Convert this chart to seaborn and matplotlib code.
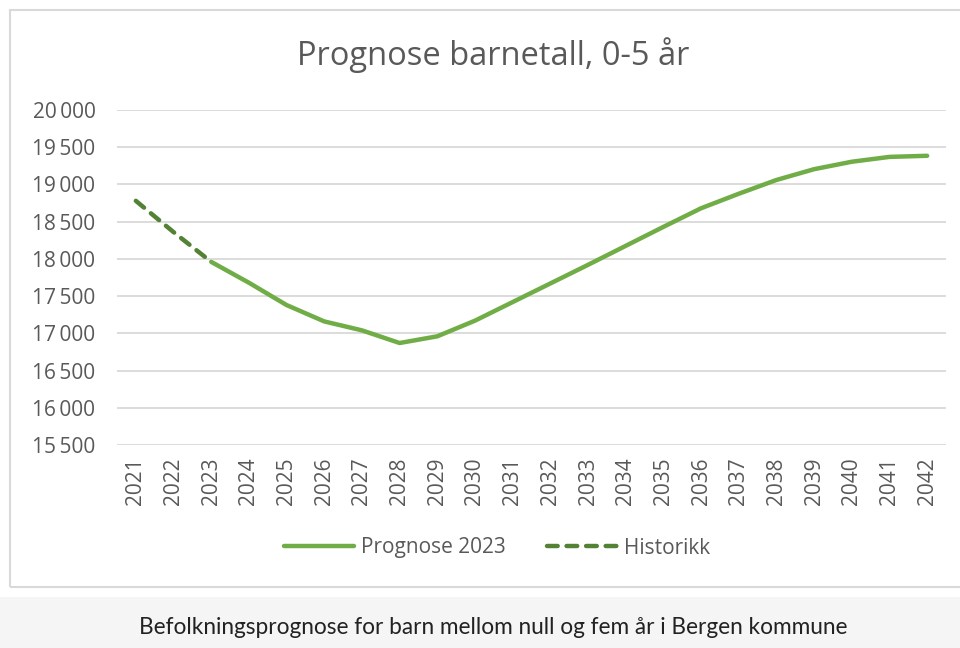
import matplotlib
matplotlib.use("Agg")
import matplotlib.pyplot as plt
import matplotlib.patches as mpatches
from matplotlib.lines import Line2D
from matplotlib.ticker import FuncFormatter, FixedLocator
import seaborn as sns
import pandas as pd

sns.set_theme(style="white")
plt.rcParams['font.family'] = ['Open Sans', 'DejaVu Sans']

title = "Prognose barnetall, 0-5 år"
caption = "Befolkningsprognose for barn mellom null og fem år i Bergen kommune"

prognose_years = list(range(2023, 2043))
prognose_values = [17960, 17680, 17380, 17160, 17040, 16870, 16960, 17170, 17420,
                   17670, 17920, 18175, 18430, 18680, 18875, 19060, 19205, 19305,
                   19370, 19385]
historikk_years = [2021, 2022, 2023]
historikk_values = [18780, 18360, 17960]
ytick_values = [15500, 16000, 16500, 17000, 17500, 18000, 18500, 19000, 19500, 20000]
series_names = ["Prognose 2023", "Historikk"]

df_p = pd.DataFrame({"År": prognose_years, "Antall": prognose_values})
df_h = pd.DataFrame({"År": historikk_years, "Antall": historikk_values})

light = "#70AD47"
dark = "#548235"
txt = "#595959"

fig = plt.figure(figsize=(9.6, 6.48), dpi=100)
fig.patch.set_facecolor("white")

# chart frame
fig.patches.append(mpatches.Rectangle((10/960, 1-587/648), 1.2, 577/648,
                                      transform=fig.transFigure, fill=False,
                                      edgecolor="#D9D9D9", linewidth=1.5, zorder=0))
# caption band
fig.patches.append(mpatches.Rectangle((0, 0), 1, 51/648, transform=fig.transFigure,
                                      facecolor="#F5F5F5", edgecolor="none", zorder=0))

ax = fig.add_axes([117/960, 1-445/648, (946-117)/960, (445-110)/648])
ax.set_facecolor("none")

sns.lineplot(data=df_p, x="År", y="Antall", ax=ax, color=light, linewidth=3.2,
             solid_capstyle="round", label=series_names[0], legend=False)
sns.lineplot(data=df_h, x="År", y="Antall", ax=ax, color=dark, linewidth=3.2,
             linestyle=(0, (2.4, 2.0)), dash_capstyle="round",
             label=series_names[1], legend=False)

all_years = historikk_years + prognose_years[1:]
ax.set_xlim(2020.5, 2042.5)
ax.set_ylim(15500, 20000)
ax.yaxis.set_major_locator(FixedLocator(ytick_values))
ax.yaxis.set_major_formatter(FuncFormatter(lambda v, p: f"{int(v):,}".replace(",", "\u2009")))
ax.set_xticks(all_years)
ax.set_xticklabels([str(y) for y in all_years], rotation=90)
ax.grid(axis="y", color="#D9D9D9", linewidth=1.3)
ax.grid(axis="x", visible=False)
for s in ax.spines.values():
    s.set_visible(False)
ax.set_xlabel("")
ax.set_ylabel("")
ax.tick_params(axis="both", length=0, labelsize=15, labelcolor=txt)
ax.tick_params(axis="y", pad=15.5)
ax.tick_params(axis="x", pad=9)
ax.set_axisbelow(True)

fig.text(493/960, 1-55/648, title, ha="center", va="center", fontsize=23.5, color=txt)

handles = [Line2D([], [], color=light, linewidth=3.2, solid_capstyle="round"),
           Line2D([], [], color=dark, linewidth=3.2, linestyle=(0, (2.4, 2.0)),
                  dash_capstyle="round")]
fig.legend(handles, series_names, loc="center", bbox_to_anchor=(497/960, 1-548/648),
           ncol=2, frameon=False, fontsize=15, labelcolor=txt, handlelength=3.4,
           handletextpad=0.3, columnspacing=2.0)

fig.text(493/960, 1-628/648, caption, ha="center", va="center", fontsize=16.3,
         color="#222222", family=["Lato", "DejaVu Sans"])

fig.savefig("out.png", dpi=100)
